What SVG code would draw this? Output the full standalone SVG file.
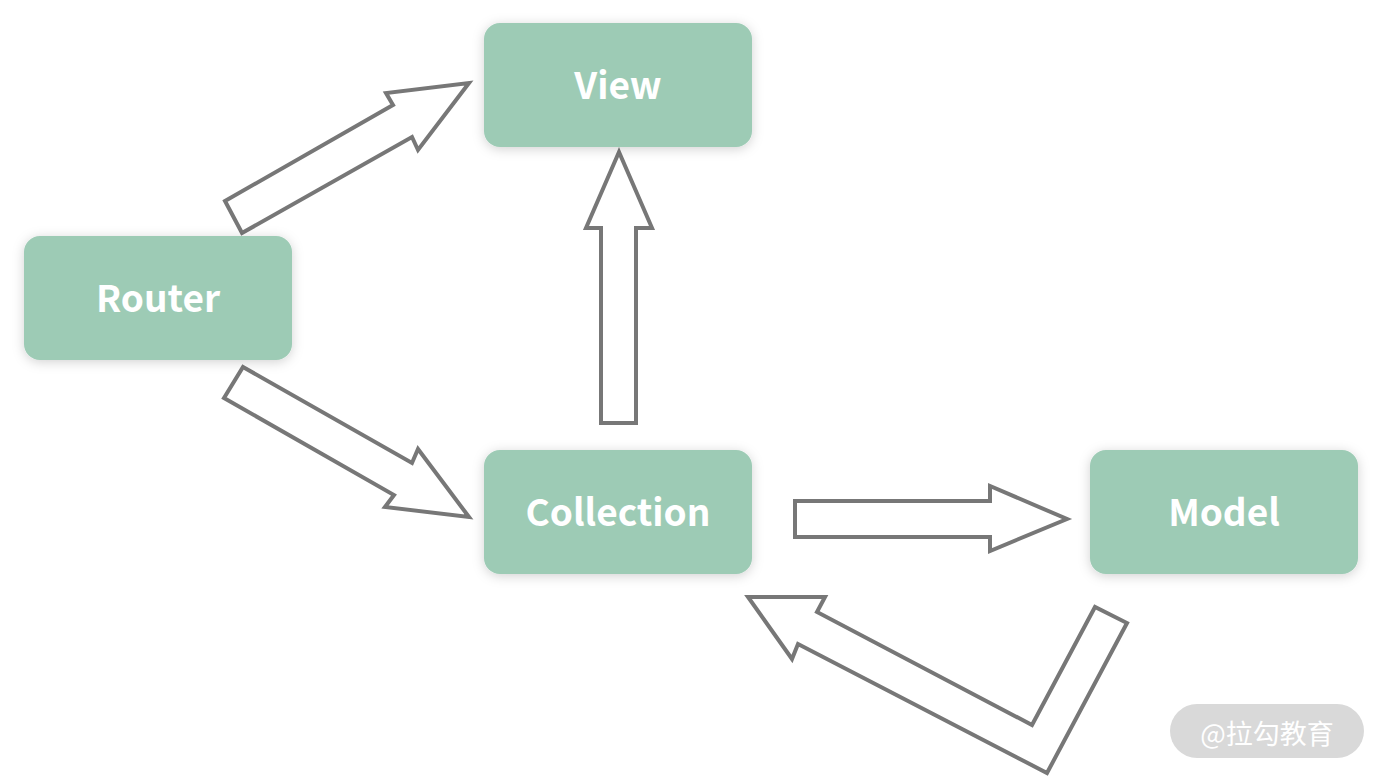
<svg xmlns="http://www.w3.org/2000/svg" width="1383" height="777" viewBox="0 0 1383 777">
<defs>
<filter id="sh" x="-20%" y="-30%" width="140%" height="160%">
<feDropShadow dx="0" dy="2" stdDeviation="6" flood-color="#000" flood-opacity="0.18"/>
</filter>
<style>
.node rect{fill:#9dcbb5;filter:url(#sh)}
.node text{fill:#fff;font-family:"Noto Sans CJK SC","Noto Sans",sans-serif;font-weight:700;font-size:37px;text-anchor:middle;dominant-baseline:central}
.arrow{fill:#fff;stroke:#777;stroke-width:4;stroke-linejoin:miter}
</style>
</defs>
<rect width="1383" height="777" fill="#fff"/>
<g id="connectors">
<polygon class="arrow" points="225,201 393,105 386,93 469,83 418,150 412,137 242,233"/>
<polygon class="arrow" points="243,367 412,463 418,449 469,517 385,507 394,495 224,398"/>
<polygon class="arrow" points="619,152 652,228 636,228 636,423 601,423 601,228 586,228"/>
<polygon class="arrow" points="795,501 990,501 990,486 1067,519 990,551 990,537 795,537"/>
<polygon class="arrow" points="748,597 825,597 817,612 1032,725 1095,607 1127,623 1047,773 798,644 792,659"/>
</g>
<g id="node-view" class="node"><rect x="484" y="23" width="268" height="124" rx="16"/><text x="618" y="83">View</text></g>
<g id="node-router" class="node"><rect x="24" y="236" width="268" height="124" rx="16"/><text x="158" y="296">Router</text></g>
<g id="node-collection" class="node"><rect x="484" y="450" width="268" height="124" rx="16"/><text x="618" y="510">Collection</text></g>
<g id="node-model" class="node"><rect x="1090" y="450" width="268" height="124" rx="16"/><text x="1224" y="510">Model</text></g>
<g id="watermark"><rect x="1170" y="704" width="194" height="54" rx="27" fill="#d9d9d9"/><text x="1267" y="732" fill="#fff" font-family="'Noto Sans CJK SC',sans-serif" font-size="27" text-anchor="middle" dominant-baseline="central">@拉勾教育</text></g>
</svg>
